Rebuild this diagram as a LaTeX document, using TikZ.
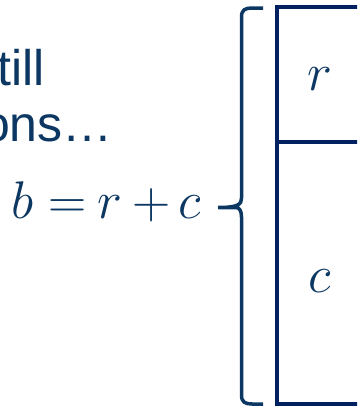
\RequirePackage{fix-cm}
\documentclass[tikz,border=0pt]{standalone}
\usepackage{fontspec}
\setmainfont{Liberation Sans}
\definecolor{txtnavy}{HTML}{0B3762}
\definecolor{boxnavy}{HTML}{002060}
\tikzset{
  bigtext/.style={inner sep=0pt, text=txtnavy, font=\fontsize{50}{58}\selectfont},
  mathtext/.style={inner sep=0pt, text=txtnavy, font=\fontsize{53}{60}\selectfont},
  eqpart/.style={mathtext, anchor=base},
  boxline/.style={draw=boxnavy, line width=4pt},
  bracepath/.style={draw=txtnavy, line width=3.5pt, line join=round}
}
\begin{document}
\begin{tikzpicture}[x=1pt,y=-1pt]
\useasboundingbox (0,0) rectangle (357,407);
\clip (0,0) rectangle (357,407);
% text lines (cut off on the left)
\node[bigtext, anchor=base east] (l1) at (45,85) {till};
\node[bigtext, anchor=base east] (l2) at (113,141) {ons…};
% equation  b = r + c
\node[eqpart] (eqb) at (23,218) {$b$};
\node[eqpart] (eqeq) at (68,218) {$=$};
\node[eqpart] (eqr) at (110,218) {$r$};
\node[eqpart] (eqplus) at (151.5,218) {$+$};
\node[eqpart] (eqc) at (190,218) {$c$};
% brace
\coordinate (btop) at (263,8);
\coordinate (bbot) at (263,404);
\coordinate (btip) at (218,207.5);
\path[bracepath] (btop) -- (252,8) .. controls (245,8) and (241.5,10) .. (241.5,17)
  -- (241.5,198) .. controls (241.5,204) and (239,207.5) .. (btip)
  (btip) -- (236,207.5) .. controls (239.5,207.5) and (241.5,211) .. (241.5,217)
  -- (241.5,395) .. controls (241.5,402) and (245,404) .. (252,404) -- (bbot);
% box
\coordinate (tl) at (277,7);
\coordinate (br) at (420,404);
\draw[boxline] (420,7) -- (tl) -- (277,404) -- (br);
\draw[boxline] (277,142) -- (420,142);
\node[mathtext] (r) at (320,79) {$r$};
\node[mathtext] (c) at (320,281) {$c$};
\end{tikzpicture}
\end{document}
